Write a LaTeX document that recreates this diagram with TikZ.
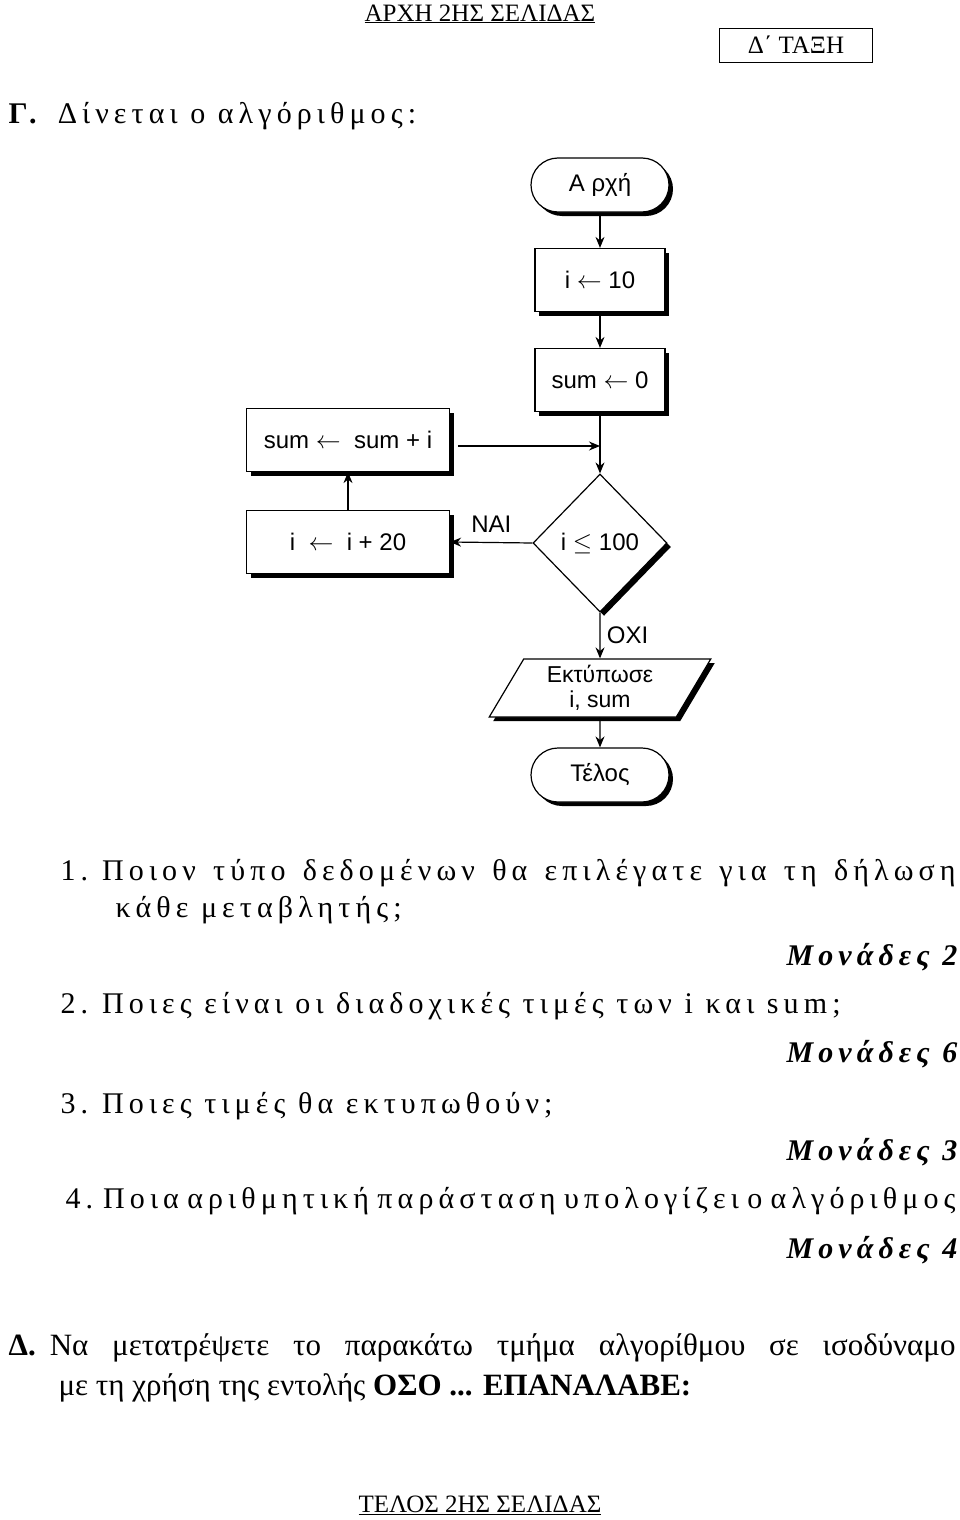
\documentclass[tikz,border=0pt]{standalone}
\usepackage{fontspec}
\setmainfont{Liberation Serif}
\newfontfamily\flowfont{Liberation Sans}
\newfontfamily\spaced[LetterSpace=17]{Liberation Serif}
\usetikzlibrary{arrows.meta,positioning,shapes.geometric,shadows}

\begin{document}
\begin{tikzpicture}[
		x=1pt, y=-1pt,
		>={Stealth[length=11pt,width=9pt]},
		very thick,
		boxed/.style={
			shape=rectangle, draw, fill=white,
			minimum width=203pt, minimum height=63pt,
			font=\flowfont\fontsize{24}{28}\selectfont,
			drop shadow={shadow xshift=4pt, shadow yshift=-4pt, fill=black, opacity=1},
		},
		stepbox/.style={boxed, minimum width=130pt},
		terminal/.style={boxed, rounded corners=27pt, minimum width=138pt, minimum height=54pt},
		decision/.style={boxed, shape=diamond, minimum width=134pt, minimum height=138pt, inner sep=0pt},
		iobox/.style={boxed, shape=trapezium, trapezium left angle=62, trapezium right angle=118,
			trapezium stretches=true, minimum width=222pt, minimum height=58pt, inner sep=0pt,
			font=\flowfont\fontsize{23}{25}\selectfont, align=center},
		txt/.style={anchor=base west, inner sep=0pt, font=\spaced\fontsize{30}{34}\selectfont},
		score/.style={anchor=base east, inner sep=0pt, font=\spaced\fontsize{30}{34}\selectfont\bfseries\itshape},
	]
	\useasboundingbox (0,0) rectangle (960,1520);
	% page header
	\node[inner sep=0pt, font=\fontsize{25}{28}\selectfont] (head) at (480,14) {\underline{ΑΡΧΗ 2ΗΣ ΣΕΛΙΔΑΣ}};
	\node[draw, semithick, minimum width=153pt, minimum height=34pt, font=\fontsize{25}{28}\selectfont] (class) at (796,45) {Δ΄ ΤΑΞΗ};
	\node[txt] (partG) at (8,123) {\textbf{Γ.}\hspace{16pt}Δίνεται ο αλγόριθμος:};

	% flowchart
	\node[terminal] (start) at (600,185) {Α ρχή};
	\node[stepbox] (initI) at (600,280) {i $\leftarrow$ 10};
	\node[stepbox] (initSum) at (600,380) {sum $\leftarrow$ 0};
	\node[decision] (test) at (600,543) {i $\leq$ 100};
	\node[boxed] (addSum) at (348,440) {sum $\leftarrow$\ \ sum + i};
	\node[boxed] (incI) at (348,542) {i \ $\leftarrow$\ \ i + 20};
	\node[iobox] (print) at (600,688) {Εκτύπωσε\\i, sum};
	\node[terminal] (stop) at (600,775) {Τέλος};
	\coordinate (join) at (600,446);
	\coordinate (addOut) at (458,446);

	\draw[->] (start) -- (initI);
	\draw[->] (initI) -- (initSum);
	\draw[->] (initSum) -- (test);
	\draw[->] (addOut) -- (join);
	\draw[->] (test.west) -- node[above=6pt, font=\flowfont\fontsize{24}{28}\selectfont] (yes) {ΝΑΙ} (incI.east);
	\draw[->] (incI) -- (addSum);
	\draw[->] (test.south) -- node[right=3pt, font=\flowfont\fontsize{24}{28}\selectfont] (no) {ΟΧΙ} (print.north);
	\draw[->] (print) -- (stop);

	% questions
	\node[txt] (q1) at (60,880) {\makebox[895pt][s]{1.\hspace{14pt}Ποιον τύπο δεδομένων θα επιλέγατε για τη δήλωση}};
	\node[txt] (q1b) at (115,917) {κάθε μεταβλητής;};
	\node[score] (m1) at (958,965) {Μονάδες 2};
	\node[txt] (q2) at (60,1013) {2.\hspace{14pt}Ποιες είναι οι διαδοχικές τιμές των i και sum;};
	\node[score] (m2) at (958,1062) {Μονάδες 6};
	\node[txt] (q3) at (60,1113) {3.\hspace{14pt}Ποιες τιμές θα εκτυπωθούν;};
	\node[score] (m3) at (958,1160) {Μονάδες 3};
	\node[txt] (q4) at (65,1208) {\makebox[890pt][s]{4.\hspace{10pt}Ποια αριθμητική παράσταση υπολογίζει ο αλγόριθμος;}};
	\node[score] (m4) at (958,1258) {Μονάδες 4};
	\node[txt, font=\fontsize{31}{34}\selectfont] (partD) at (8,1355) {\makebox[947pt][s]{\textbf{Δ.}\hspace{14pt}Να μετατρέψετε το παρακάτω τμήμα αλγορίθμου σε ισοδύναμο}};
	\node[txt, font=\fontsize{31}{34}\selectfont] (partDb) at (58,1395) {με τη χρήση της εντολής \textbf{ΟΣΟ ... ΕΠΑΝΑΛΑΒΕ:}};
	\node[inner sep=0pt, font=\fontsize{25}{28}\selectfont] (foot) at (480,1505) {\underline{ΤΕΛΟΣ 2ΗΣ ΣΕΛΙΔΑΣ}};
\end{tikzpicture}
\end{document}
